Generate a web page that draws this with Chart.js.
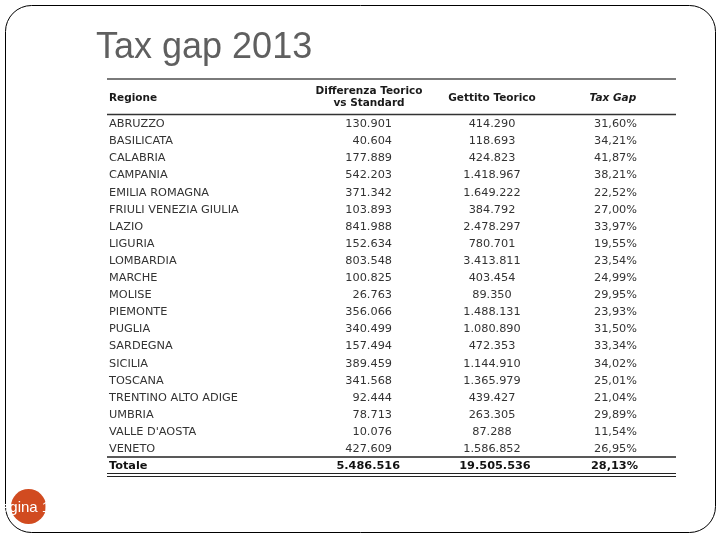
<!DOCTYPE html>
<html>
<head>
<meta charset="utf-8">
<script src="https://cdn.jsdelivr.net/npm/chart.js@4/dist/chart.umd.min.js"></script>
<style>
  html, body { margin: 0; padding: 0; background: #ffffff; }
  #c { display: block; }
</style>
</head>
<body>
<canvas id="c" width="720" height="540"></canvas>
<script>
const titleText = "Tax gap 2013";
const headers = ["Regione", "Differenza Teorico|vs Standard", "Gettito Teorico", "Tax Gap"];
const regions = ["ABRUZZO", "BASILICATA", "CALABRIA", "CAMPANIA", "EMILIA ROMAGNA",
  "FRIULI VENEZIA GIULIA", "LAZIO", "LIGURIA", "LOMBARDIA", "MARCHE", "MOLISE",
  "PIEMONTE", "PUGLIA", "SARDEGNA", "SICILIA", "TOSCANA", "TRENTINO ALTO ADIGE",
  "UMBRIA", "VALLE D'AOSTA", "VENETO"];
const diffTeorico = [130901, 40604, 177889, 542203, 371342, 103893, 841988, 152634,
  803548, 100825, 26763, 356066, 340499, 157494, 389459, 341568, 92444, 78713, 10076, 427609];
const gettitoTeorico = [414290, 118693, 424823, 1418967, 1649222, 384792, 2478297, 780701,
  3413811, 403454, 89350, 1488131, 1080890, 472353, 1144910, 1365979, 439427, 263305, 87288, 1586852];
const taxGap = [31.60, 34.21, 41.87, 38.21, 22.52, 27.00, 33.97, 19.55, 23.54, 24.99,
  29.95, 23.93, 31.50, 33.34, 34.02, 25.01, 21.04, 29.89, 11.54, 26.95];
const totalLabel = "Totale";
const totalDiff = 5486516;
const totalGettito = 19505536;
const totalGap = 28.13;
const pageLabel = "Pagina 1";

// ---- formatting helpers (Italian style) ----
function fmtInt(n) {
  return String(Math.round(n)).replace(/\B(?=(\d{3})+(?!\d))/g, ".");
}
function fmtPct(p) {
  return p.toFixed(2).replace(".", ",") + "%";
}

const rowLabels = regions.concat([totalLabel]);
const totalIdx = regions.length;

// column anchors on the x scale (0..1) and alignment
const cols = [
  { x: 0.0035, align: "left" },
  { x: 0.5009, align: "right" },
  { x: 0.6766, align: "center" },
  { x: 0.9315, align: "right" }
];

const FONT = "DejaVu Sans, Verdana, sans-serif";

const slidePlugin = {
  id: "slide",
  beforeDraw(chart) {
    const ctx = chart.ctx;
    ctx.save();
    ctx.fillStyle = "#ffffff";
    ctx.fillRect(0, 0, chart.width, chart.height);
    // slide border
    ctx.strokeStyle = "#000000";
    ctx.lineWidth = 1;
    ctx.beginPath();
    ctx.roundRect(5.5, 5.5, 710, 527, 26);
    ctx.stroke();
    // title
    ctx.fillStyle = "#5f5f5f";
    ctx.font = "36px 'Liberation Sans', Arial, sans-serif";
    ctx.textBaseline = "alphabetic";
    ctx.textAlign = "left";
    ctx.fillText(titleText, 96, 58);
    // page badge
    ctx.fillStyle = "#D14B20";
    ctx.beginPath();
    ctx.arc(28.5, 506.5, 17.5, 0, Math.PI * 2);
    ctx.fill();
    ctx.save();
    ctx.beginPath();
    ctx.rect(4, 480, 60, 50);
    ctx.clip();
    ctx.fillStyle = "#ffffff";
    ctx.font = "15px 'Liberation Sans', Arial, sans-serif";
    ctx.fillText(pageLabel, -9, 512);
    ctx.restore();
    ctx.restore();
  }
};

const tablePlugin = {
  id: "table",
  afterDatasetsDraw(chart) {
    const ctx = chart.ctx;
    const xs = chart.scales.x, ys = chart.scales.y;
    const area = chart.chartArea;
    const L = area.left, R = area.right;
    ctx.save();

    // top rule
    ctx.strokeStyle = "#7a7a7a";
    ctx.lineWidth = 2;
    ctx.beginPath(); ctx.moveTo(L, area.top - 35.5); ctx.lineTo(R, area.top - 35.5); ctx.stroke();
    // header bottom rule
    ctx.strokeStyle = "#333333";
    ctx.lineWidth = 1.5;
    ctx.beginPath(); ctx.moveTo(L, area.top); ctx.lineTo(R, area.top); ctx.stroke();

    // headers
    ctx.fillStyle = "#1a1a1a";
    ctx.textBaseline = "middle";
    ctx.font = "bold 10.5px " + FONT;
    ctx.textAlign = "left";
    ctx.fillText(headers[0], xs.getPixelForValue(cols[0].x), area.top - 16.5);
    const h1 = headers[1].split("|");
    const c1 = xs.getPixelForValue(0.4605);
    ctx.textAlign = "center";
    ctx.fillText(h1[0], c1, area.top - 23);
    ctx.fillText(h1[1], c1, area.top - 11);
    ctx.fillText(headers[2], xs.getPixelForValue(cols[2].x), area.top - 16.5);
    ctx.font = "italic bold 10.5px " + FONT;
    ctx.fillText(headers[3], xs.getPixelForValue(0.889), area.top - 16.5);

    // body rows
    rowLabels.forEach((lab, i) => {
      const y = ys.getPixelForValue(i) + 1.2;
      const isTot = i === totalIdx;
      const vals = isTot
        ? [lab, fmtInt(totalDiff), fmtInt(totalGettito), fmtPct(totalGap)]
        : [lab, fmtInt(diffTeorico[i]), fmtInt(gettitoTeorico[i]), fmtPct(taxGap[i])];
      ctx.font = (isTot ? "bold " : "") + "11.3px " + FONT;
      ctx.fillStyle = isTot ? "#111111" : "#333333";
      vals.forEach((v, c) => {
        ctx.textAlign = cols[c].align;
        let x = xs.getPixelForValue(cols[c].x);
        if (isTot && c === 1) x += 8;
        if (isTot && c === 2) x += 3;
        if (isTot && c === 3) x += 1;
        ctx.fillText(v, x, y);
      });
    });

    // rule above total
    const yPrev = ys.getPixelForValue(totalIdx - 1), yTot = ys.getPixelForValue(totalIdx);
    const mid = (yPrev + yTot) / 2 + 0.5;
    ctx.strokeStyle = "#222222";
    ctx.lineWidth = 1.5;
    ctx.beginPath(); ctx.moveTo(L, mid); ctx.lineTo(R, mid); ctx.stroke();
    // double rule below total
    ctx.lineWidth = 1.2;
    ctx.beginPath(); ctx.moveTo(L, area.bottom); ctx.lineTo(R, area.bottom); ctx.stroke();
    ctx.beginPath(); ctx.moveTo(L, area.bottom + 3); ctx.lineTo(R, area.bottom + 3); ctx.stroke();

    ctx.restore();
  }
};

// one invisible anchor point per cell, placed through the scales
const cellData = [];
rowLabels.forEach((lab) => cols.forEach((c) => cellData.push({ x: c.x, y: lab })));

new Chart(document.getElementById("c"), {
  type: "scatter",
  data: {
    labels: rowLabels,
    datasets: [{
      label: "cells",
      data: cellData,
      pointRadius: 0,
      pointHoverRadius: 0
    }]
  },
  options: {
    responsive: false,
    animation: false,
    events: [],
    layout: { padding: { left: 107, right: 44, top: 114.5, bottom: 66.5 } },
    plugins: { legend: { display: false }, tooltip: { enabled: false }, title: { display: false } },
    scales: {
      x: { type: "linear", min: 0, max: 1, display: false },
      y: { type: "category", labels: rowLabels, offset: true, display: false }
    }
  },
  plugins: [slidePlugin, tablePlugin]
});
</script>
</body>
</html>
